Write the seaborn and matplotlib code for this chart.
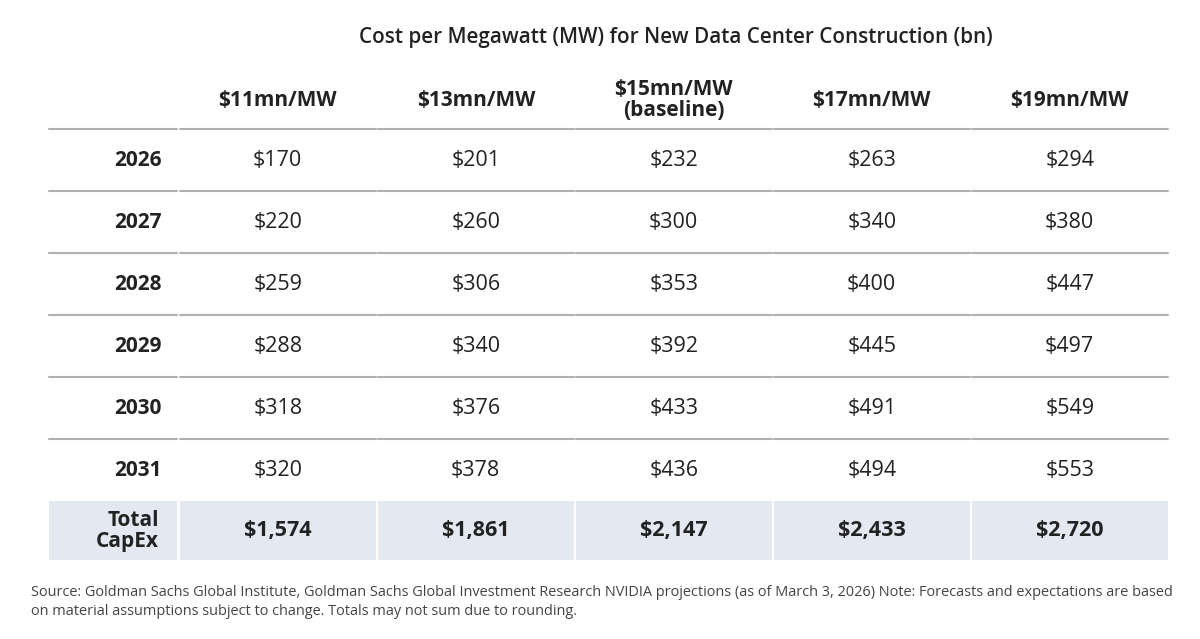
import matplotlib
matplotlib.use("Agg")
import matplotlib.pyplot as plt
import seaborn as sns

sns.set_theme(style="white")
plt.rcParams['font.family'] = ['Open Sans', 'DejaVu Sans']

title = "Cost per Megawatt (MW) for New Data Center Construction (bn)"
columns = ["$11mn/MW", "$13mn/MW", "$15mn/MW\n(baseline)", "$17mn/MW", "$19mn/MW"]
years = ["2026", "2027", "2028", "2029", "2030", "2031"]
v11 = [170, 220, 259, 288, 318, 320]
v13 = [201, 260, 306, 340, 376, 378]
v15 = [232, 300, 353, 392, 433, 436]
v17 = [263, 340, 400, 445, 491, 494]
v19 = [294, 380, 447, 497, 549, 553]
totals = [1574, 1861, 2147, 2433, 2720]
total_label = "Total\nCapEx"
note = ("Source: Goldman Sachs Global Institute, Goldman Sachs Global Investment Research NVIDIA projections (as of March 3, 2026) Note: Forecasts and expectations are based\n"
        "on material assumptions subject to change. Totals may not sum due to rounding.")

series = [v11, v13, v15, v17, v19]
fig = plt.figure(figsize=(12, 6.39), dpi=100)
ax = fig.add_axes([0, 0, 1, 1])
ax.set_xlim(0, 1200); ax.set_ylim(639, 0); ax.axis('off')

txt = "#222222"
line_c = "#b0b0b0"
shade = "#e4e8f1"
label_l, label_r = 49, 177
col_l0, col_w, gap = 180, 198, 2.5
row_top, row_h = 129, 62

ax.text(676, 38, title, ha='center', va='center', fontsize=14.9, color=txt, fontweight='semibold')
for j, c in enumerate(columns):
    cx = col_l0 + j * col_w + (col_w - gap) / 2
    ax.text(cx, 100, c, ha='center', va='center', fontsize=15, fontweight='bold', color=txt, linespacing=1.05)

def seg(y):
    ax.plot([label_l, label_r], [y, y], color=line_c, lw=1.5)
    for j in range(len(columns)):
        x0 = col_l0 + j * col_w
        ax.plot([x0, x0 + col_w - gap], [y, y], color=line_c, lw=1.5)

for i, yr in enumerate(years):
    y0 = row_top + i * row_h
    seg(y0)
    cy = y0 + row_h / 2
    ax.text(162, cy, yr, ha='right', va='center', fontsize=15, fontweight='bold', color=txt)
    for j, s in enumerate(series):
        cx = col_l0 + j * col_w + (col_w - gap) / 2
        ax.text(cx, cy, f"${s[i]:,}", ha='center', va='center', fontsize=15.5, color=txt)

ty0 = row_top + len(years) * row_h
th = 59
ax.add_patch(plt.Rectangle((label_l, ty0), label_r - label_l, th, color=shade, lw=0))
ax.text(159, ty0 + th / 2, total_label, ha='right', va='center', fontsize=15, fontweight='bold',
        color=txt, multialignment='right', linespacing=1.0)
for j, t in enumerate(totals):
    x0 = col_l0 + j * col_w
    ax.add_patch(plt.Rectangle((x0, ty0), col_w - gap, th, color=shade, lw=0))
    ax.text(x0 + (col_w - gap) / 2, ty0 + th / 2, f"${t:,}", ha='center', va='center',
            fontsize=15.5, fontweight='bold', color=txt)

ax.text(31, 602, note, ha='left', va='center', fontsize=10.45, color="#444444", linespacing=1.3)

fig.savefig("out.png", dpi=100, facecolor='white')
